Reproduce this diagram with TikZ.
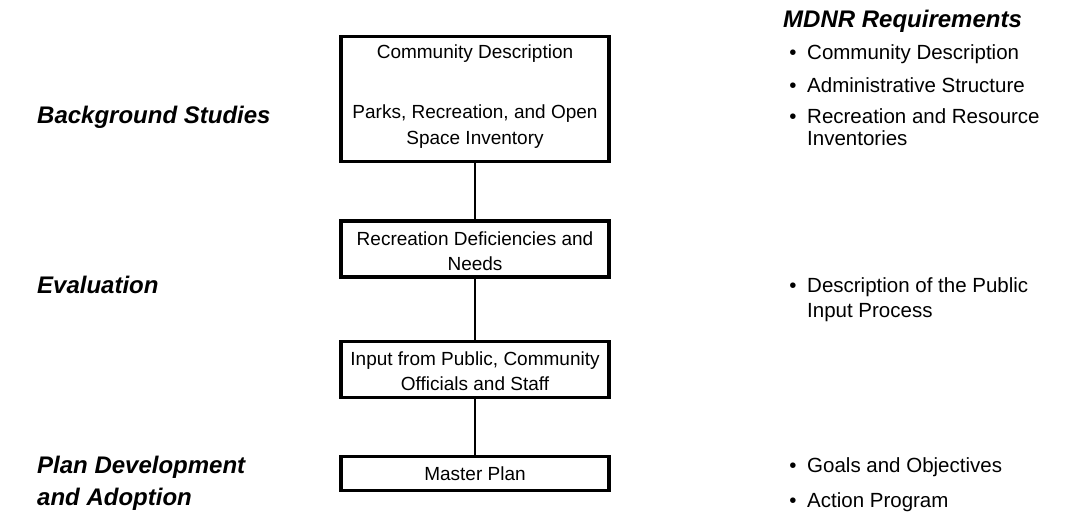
\documentclass[tikz,border=0pt]{standalone}
\usepackage{fontspec}
\setmainfont{Liberation Sans}
\begin{document}
\begin{tikzpicture}[x=1pt,y=-1pt,
  box/.style={draw, line width=3.3pt, inner sep=0pt, minimum width=268pt},
  conn/.style={line width=2pt},
  btxt/.style={anchor=base, inner sep=0pt, font=\fontsize{19}{24}\selectfont},
  lab/.style={anchor=base west, inner sep=0pt, font=\fontsize{24}{30}\selectfont\bfseries\itshape},
  rtxt/.style={anchor=base west, inner sep=0pt, font=\fontsize{20.5}{26}\selectfont},
  bul/.style={anchor=base, inner sep=0pt, font=\fontsize{20.5}{26}\selectfont}]
\useasboundingbox (0,0) rectangle (1067,521);
% boxes
\node[box, minimum height=125.5pt] (b1) at (475,99) {};
\node[box, minimum height=56pt] (b2) at (475,249) {};
\node[box, minimum height=56pt] (b3) at (475,369.5) {};
\node[box, minimum height=34pt] (b4) at (475,473.5) {};
% connectors
\draw[conn] (b1.south) -- (b2.north);
\draw[conn] (b2.south) -- (b3.north);
\draw[conn] (b3.south) -- (b4.north);
% box texts
\node[btxt] (t11) at (475,59) {Community Description};
\node[btxt] (t12) at (475,119) {Parks, Recreation, and Open};
\node[btxt] (t13) at (475,145) {Space Inventory};
\node[btxt] (t21) at (475,245) {Recreation Deficiencies and};
\node[btxt] (t22) at (475,270) {Needs};
\node[btxt] (t31) at (475,365) {Input from Public, Community};
\node[btxt] (t32) at (475,390) {Officials and Staff};
\node[btxt] (t41) at (475,480) {Master Plan};
% left labels
\node[lab] (l1) at (37,124) {Background Studies};
\node[lab] (l2) at (37,293) {Evaluation};
\node[lab] (l3) at (37,473) {Plan Development};
\node[lab] (l4) at (37,505) {and Adoption};
% right column
\node[lab] (m0) at (783,28) {MDNR Requirements};
\node[bul] (p1) at (793,60) {•};
\node[rtxt] (r1) at (807,60) {Community Description};
\node[bul] (p2) at (793,93) {•};
\node[rtxt] (r2) at (807,93) {Administrative Structure};
\node[bul] (p3) at (793,124) {•};
\node[rtxt] (r3) at (807,124) {Recreation and Resource};
\node[rtxt] (r4) at (807,146) {Inventories};
\node[bul] (p4) at (793,292) {•};
\node[rtxt] (r5) at (807,292) {Description of the Public};
\node[rtxt] (r6) at (807,317) {Input Process};
\node[bul] (p5) at (793,472) {•};
\node[rtxt] (r7) at (807,472) {Goals and Objectives};
\node[bul] (p6) at (793,507) {•};
\node[rtxt] (r8) at (807,507) {Action Program};
\end{tikzpicture}
\end{document}
